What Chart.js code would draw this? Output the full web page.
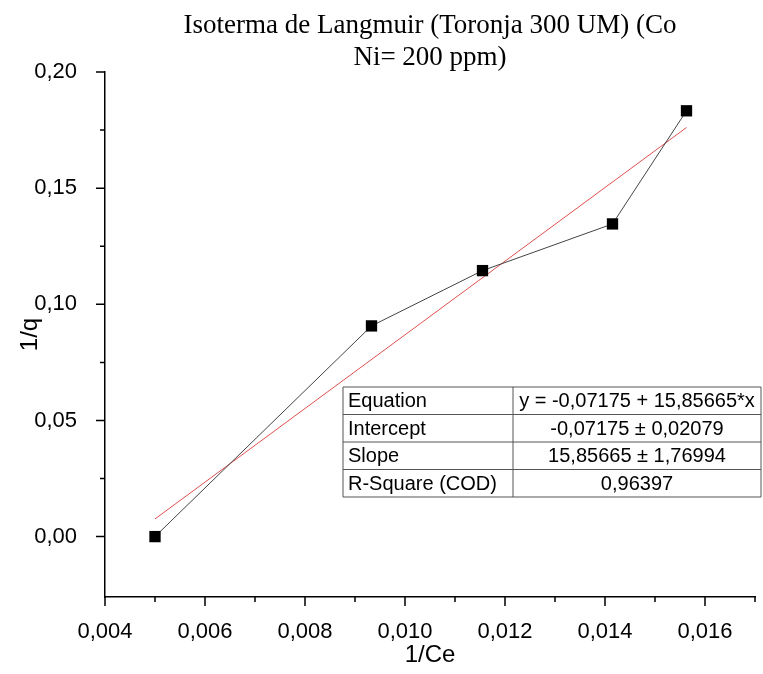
<!DOCTYPE html>
<html><head><meta charset="utf-8">
<script src="https://cdn.jsdelivr.net/npm/chart.js@4/dist/chart.umd.min.js"></script>
<style>html,body{margin:0;padding:0;background:#fff}#wrap{width:763px;height:674px}</style>
</head><body><div id="wrap"><canvas id="c" width="763" height="674"></canvas></div>
<script>
const titleLines = ['Isoterma de Langmuir (Toronja 300 UM) (Co', 'Ni= 200 ppm)'];
const xAxisTitle = '1/Ce';
const yAxisTitle = '1/q';
const invCe = [0.00500, 0.00933, 0.01155, 0.01415, 0.01563];
const invQ  = [0.0000, 0.0907, 0.1145, 0.1346, 0.1833];
const fitX = [0.00500, 0.01563];
const fitY = [0.0076, 0.1761];
const xMajorTicks = [0.004, 0.006, 0.008, 0.010, 0.012, 0.014, 0.016];
const xMinorTicks = [0.005, 0.007, 0.009, 0.011, 0.013, 0.015, 0.017];
const yMajorTicks = [0.00, 0.05, 0.10, 0.15, 0.20];
const yMinorTicks = [0.025, 0.075, 0.125, 0.175];
const xRange = [0.004, 0.017];
const yRange = [-0.026, 0.20];
const tableLabels = ['Equation', 'Intercept', 'Slope', 'R-Square (COD)'];
const tableValues = ['y = -0,07175 + 15,85665*x', '-0,07175 ± 0,02079', '15,85665 ± 1,76994', '0,96397'];

const SANS = '"Liberation Sans", Arial, sans-serif';
const SERIF = '"Liberation Serif", "Times New Roman", serif';

const decoPlugin = {
  id: 'deco',
  afterDraw(chart) {
    const ctx = chart.ctx;
    const ca = chart.chartArea;
    const xs = chart.scales.x, ys = chart.scales.y;
    ctx.save();
    // title
    ctx.fillStyle = '#000';
    ctx.font = '27px ' + SERIF;
    ctx.textAlign = 'center';
    ctx.textBaseline = 'alphabetic';
    const cx = (ca.left + ca.right) / 2;
    titleLines.forEach((t, i) => ctx.fillText(t, cx, 33 + i * 32));
    // tick marks
    ctx.strokeStyle = '#000';
    ctx.lineWidth = 1.5;
    ctx.beginPath();
    xMajorTicks.forEach(v => { const p = xs.getPixelForValue(v); ctx.moveTo(p, ca.bottom); ctx.lineTo(p, ca.bottom + 9); });
    xMinorTicks.forEach(v => { const p = xs.getPixelForValue(v); ctx.moveTo(p, ca.bottom); ctx.lineTo(p, ca.bottom + 5); });
    yMajorTicks.forEach(v => { const p = ys.getPixelForValue(v); ctx.moveTo(ca.left, p); ctx.lineTo(ca.left - 9, p); });
    yMinorTicks.forEach(v => { const p = ys.getPixelForValue(v); ctx.moveTo(ca.left, p); ctx.lineTo(ca.left - 5, p); });
    ctx.stroke();
    // table
    const tl = 343, tt = 387, tr = 761, td = 513, rh = 27.5;
    const tb = tt + rh * tableLabels.length;
    ctx.fillStyle = '#fff';
    ctx.fillRect(tl, tt, tr - tl, tb - tt);
    ctx.strokeStyle = '#555';
    ctx.lineWidth = 1;
    ctx.beginPath();
    for (let i = 0; i <= tableLabels.length; i++) { const y = tt + i * rh; ctx.moveTo(tl, y); ctx.lineTo(tr, y); }
    ctx.moveTo(tl, tt); ctx.lineTo(tl, tb);
    ctx.moveTo(td, tt); ctx.lineTo(td, tb);
    ctx.moveTo(tr, tt); ctx.lineTo(tr, tb);
    ctx.stroke();
    ctx.fillStyle = '#000';
    ctx.font = '20px ' + SANS;
    ctx.textBaseline = 'middle';
    tableLabels.forEach((t, i) => { ctx.textAlign = 'left'; ctx.fillText(t, tl + 5, tt + i * rh + rh / 2 + 1); });
    tableValues.forEach((t, i) => { ctx.textAlign = 'center'; ctx.fillText(t, (td + tr) / 2, tt + i * rh + rh / 2 + 1); });
    ctx.restore();
  }
};

new Chart(document.getElementById('c'), {
  type: 'scatter',
  data: {
    datasets: [
      {
        label: 'Fit',
        data: fitX.map((x, i) => ({ x, y: fitY[i] })),
        showLine: true,
        borderColor: '#e05050',
        borderWidth: 1,
        pointRadius: 0,
        pointHoverRadius: 0,
        order: 2
      },
      {
        label: '1/q',
        data: invCe.map((x, i) => ({ x, y: invQ[i] })),
        showLine: true,
        borderColor: '#444',
        borderWidth: 1,
        pointStyle: 'rect',
        pointRadius: 8,
        pointBackgroundColor: '#000',
        pointBorderColor: '#000',
        pointBorderWidth: 0,
        order: 1
      }
    ]
  },
  options: {
    responsive: false,
    animation: false,
    layout: { padding: { top: 72, right: 7, left: 0, bottom: 0 } },
    plugins: { legend: { display: false }, tooltip: { enabled: false } },
    scales: {
      x: {
        type: 'linear',
        min: xRange[0], max: xRange[1],
        afterBuildTicks: s => { s.ticks = xMajorTicks.map(v => ({ value: v })); },
        afterFit: s => { s.height = 77; },
        grid: { display: false },
        border: { display: true, color: '#000', width: 1.5 },
        ticks: {
          color: '#000', font: { family: SANS, size: 22 }, padding: 14, maxRotation: 0, autoSkip: false,
          callback: v => v.toFixed(3).replace('.', ',')
        },
        title: { display: true, text: xAxisTitle, color: '#000', font: { family: SANS, size: 24 }, padding: { top: 0, bottom: 4 } }
      },
      y: {
        type: 'linear',
        min: yRange[0], max: yRange[1],
        afterBuildTicks: s => { s.ticks = yMajorTicks.map(v => ({ value: v })); },
        afterFit: s => { s.width = 105; },
        grid: { display: false },
        border: { display: true, color: '#000', width: 1.5 },
        ticks: {
          color: '#000', font: { family: SANS, size: 22 }, padding: 20, autoSkip: false,
          callback: v => v.toFixed(2).replace('.', ',')
        },
        title: { display: true, text: yAxisTitle, color: '#000', font: { family: SANS, size: 24 }, padding: { top: 16, bottom: 0 } }
      }
    }
  },
  plugins: [decoPlugin]
});
</script>
</body></html>
